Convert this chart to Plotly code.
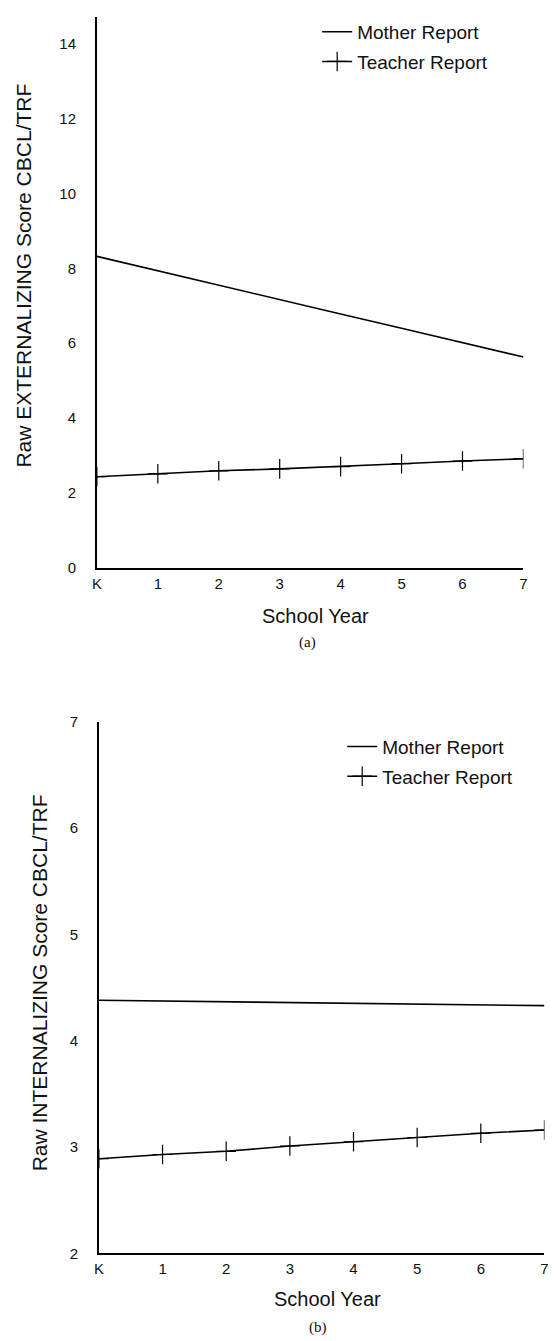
import plotly.graph_objects as go

W, H = 556, 1341

years = ["K", "1", "2", "3", "4", "5", "6", "7"]

# Panel (a): externalizing
ext_mother = [8.32, 7.93, 7.55, 7.17, 6.78, 6.40, 6.01, 5.63]
ext_teacher = [2.43, 2.51, 2.59, 2.64, 2.70, 2.78, 2.85, 2.91]

# Panel (b): internalizing
int_mother = [4.38, 4.373, 4.366, 4.359, 4.352, 4.345, 4.338, 4.33]
int_teacher = [2.89, 2.93, 2.96, 3.01, 3.05, 3.09, 3.13, 3.16]

series_names = ["Mother Report", "Teacher Report"]

# screen-pixel -> paper coordinate (calibrated against the page placement)
SX, OX = 0.9826, 13.2
SY, OY = 0.9877, 16.1

def px(s):
    return ((s - OX) / SX) / W

def py(s):
    return 1 - ((s - OY) / SY) / H

FONT = "Liberation Sans, Arial, sans-serif"
SERIF = "Liberation Serif, Times New Roman, serif"
LINE = dict(color="black", width=1.6)
MARK = dict(symbol="cross-thin", size=14, line=dict(color="black", width=1.2))

fig = go.Figure()

fig.add_trace(go.Scatter(x=years, y=ext_mother, mode="lines", name=series_names[0],
                         line=LINE, xaxis="x", yaxis="y", legend="legend",
                         legendgroup="am"))
fig.add_trace(go.Scatter(x=years, y=ext_teacher, mode="lines+markers", name=series_names[1],
                         line=LINE, marker=MARK,
                         xaxis="x", yaxis="y", legend="legend", legendgroup="at"))
fig.add_trace(go.Scatter(x=years, y=int_mother, mode="lines", name=series_names[0],
                         line=LINE, xaxis="x2", yaxis="y2", legend="legend2",
                         legendgroup="bm"))
fig.add_trace(go.Scatter(x=years, y=int_teacher, mode="lines+markers", name=series_names[1],
                         line=LINE, marker=MARK,
                         xaxis="x2", yaxis="y2", legend="legend2", legendgroup="bt"))

axis_common = dict(showline=True, linecolor="black", linewidth=1.8, showgrid=False,
                   zeroline=False, ticks="", tickfont=dict(family=FONT, size=15, color="#111"),
                   mirror=False)

# panel (a) y-axis: value 0 at screen 567, value 14 at screen 43; top clipped to page top
ya_bot = py(567)
ya_top = 1.0
ya_unit = (py(43) - py(567)) / 14.0
ya_max = (ya_top - ya_bot) / ya_unit

fig.update_layout(
    width=W, height=H,
    margin=dict(l=0, r=0, t=0, b=0),
    paper_bgcolor="white", plot_bgcolor="white",
    font=dict(family=FONT, color="#111"),
    xaxis=dict(axis_common, type="category", range=[0, 7],
               domain=[px(97), px(523)], anchor="y", ticklabelstandoff=1),
    yaxis=dict(axis_common, range=[0, ya_max], tickvals=[0, 2, 4, 6, 8, 10, 12, 14],
               domain=[ya_bot, ya_top], anchor="x", ticklabelstandoff=16),
    xaxis2=dict(axis_common, type="category", range=[0, 7],
                domain=[px(99), px(544)], anchor="y2", ticklabelstandoff=1),
    yaxis2=dict(axis_common, range=[2, 7], tickvals=[2, 3, 4, 5, 6, 7],
                domain=[py(1253), py(721)], anchor="x2", ticklabelstandoff=16),
    legend=dict(x=px(317), y=py(12), xanchor="left", yanchor="top",
                font=dict(family=FONT, size=19, color="#111"), itemwidth=30,
                tracegroupgap=2, traceorder="grouped", bgcolor="rgba(0,0,0,0)"),
    legend2=dict(x=px(342), y=py(727), xanchor="left", yanchor="top",
                 font=dict(family=FONT, size=19, color="#111"), itemwidth=30,
                 tracegroupgap=2, traceorder="grouped", bgcolor="rgba(0,0,0,0)"),
    showlegend=True,
)

annos = [
    dict(text="Raw EXTERNALIZING Score CBCL/TRF", x=px(24), y=py(275), textangle=-90,
         font=dict(family=FONT, size=21, color="#111")),
    dict(text="School Year", x=px(315), y=py(615), font=dict(family=FONT, size=20, color="#111")),
    dict(text="(a)", x=px(307), y=py(642), font=dict(family=SERIF, size=15, color="#111")),
    dict(text="Raw INTERNALIZING Score CBCL/TRF", x=px(40), y=py(982), textangle=-90,
         font=dict(family=FONT, size=21, color="#111")),
    dict(text="School Year", x=px(327), y=py(1299), font=dict(family=FONT, size=20, color="#111")),
    dict(text="(b)", x=px(318), y=py(1327), font=dict(family=SERIF, size=15, color="#111")),
]
for a in annos:
    fig.add_annotation(xref="paper", yref="paper", showarrow=False,
                       xanchor="center", yanchor="middle", **a)

fig.write_html("out.html")
